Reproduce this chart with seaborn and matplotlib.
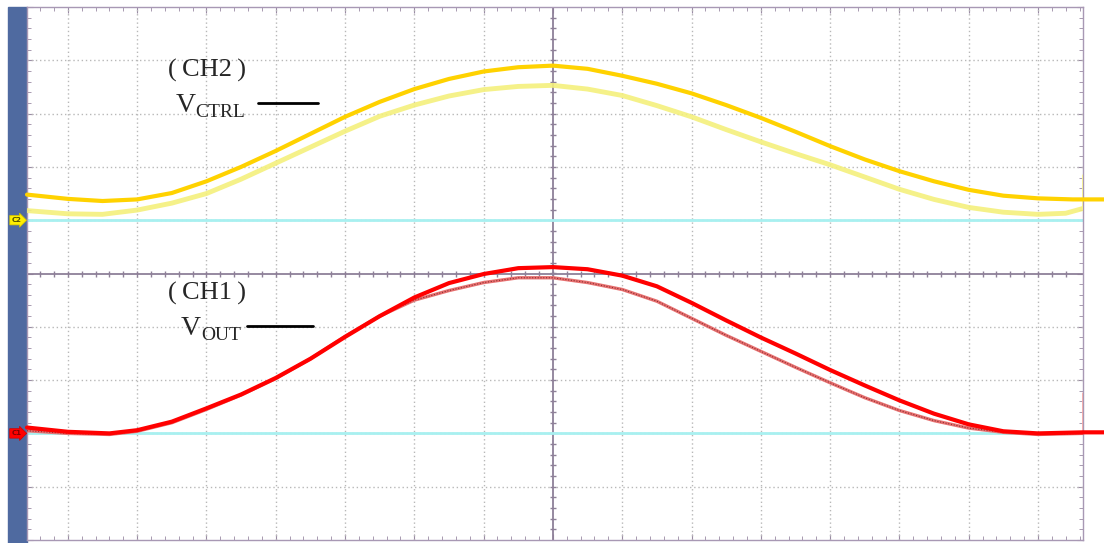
import numpy as np
import pandas as pd
import matplotlib
matplotlib.use("Agg")
import matplotlib.pyplot as plt
import seaborn as sns
from matplotlib.patches import Rectangle
from matplotlib.ticker import MultipleLocator
from matplotlib.transforms import blended_transform_factory

ch2_ref_x = [-7.59, -7.0, -6.5, -6.0, -5.5, -5.0, -4.5, -4.0, -3.5, -3.0, -2.5, -2.0, -1.5,
             -1.0, -0.5, 0.0, 0.5, 1.0, 1.5, 2.0, 2.5, 3.0, 3.5, 4.0, 4.5, 5.0, 5.5, 6.0,
             6.5, 7.0, 7.5, 7.95]
ch2_ref_y = [1.48, 1.40, 1.36, 1.39, 1.51, 1.73, 2.00, 2.30, 2.62, 2.94, 3.22, 3.46, 3.65,
             3.79, 3.87, 3.90, 3.84, 3.71, 3.56, 3.38, 3.16, 2.92, 2.66, 2.39, 2.14, 1.92, 1.73, 1.57,
             1.46, 1.41, 1.39, 1.39]

ch2_x = [-7.59, -7.0, -6.5, -6.0, -5.5, -5.0, -4.5, -4.0, -3.5, -3.0, -2.5, -2.0, -1.5,
         -1.0, -0.5, 0.0, 0.5, 1.0, 1.5, 2.0, 2.5, 3.0, 3.5, 4.0, 4.5, 5.0, 5.5, 6.0,
         6.5, 7.0, 7.4, 7.65]
ch2_y = [1.18, 1.12, 1.11, 1.19, 1.32, 1.50, 1.77, 2.07, 2.37, 2.67, 2.95, 3.16, 3.33,
         3.45, 3.51, 3.53, 3.46, 3.34, 3.15, 2.94, 2.70, 2.47, 2.25, 2.04, 1.81, 1.58, 1.39, 1.24,
         1.15, 1.11, 1.13, 1.22]
ch2_spike = [1.22, 1.84]

ch1_ref_x = [-7.59, -7.0, -6.4, -6.0, -5.5, -5.0, -4.5, -4.0, -3.5, -3.0, -2.5, -2.0, -1.5,
             -1.0, -0.5, 0.0, 0.5, 1.0, 1.5, 2.0, 2.5, 3.0, 3.5, 4.0, 4.5, 5.0, 5.5, 6.0,
             6.5, 7.0, 7.65, 7.95]
ch1_ref_y = [-2.89, -2.97, -3.00, -2.94, -2.78, -2.53, -2.27, -1.96, -1.60, -1.19, -0.80, -0.45, -0.18,
             -0.01, 0.10, 0.12, 0.08, -0.04, -0.24, -0.55, -0.88, -1.20, -1.50, -1.81, -2.10, -2.38, -2.63, -2.83,
             -2.96, -3.00, -2.98, -2.98]

ch1_x = [-7.59, -7.0, -6.4, -6.0, -5.5, -5.0, -4.5, -4.0, -3.5, -3.0, -2.5, -2.0, -1.5,
         -1.0, -0.5, 0.0, 0.5, 1.0, 1.5, 2.0, 2.5, 3.0, 3.5, 4.0, 4.5, 5.0, 5.5, 6.0,
         6.5, 7.0, 7.65]
ch1_y = [-2.95, -3.00, -3.02, -2.96, -2.80, -2.55, -2.28, -1.97, -1.60, -1.18, -0.80, -0.50, -0.32,
         -0.17, -0.08, -0.08, -0.17, -0.30, -0.52, -0.84, -1.16, -1.46, -1.76, -2.05, -2.33, -2.57, -2.76, -2.90,
         -2.98, -3.02, -3.00]
ch1_spike = [-3.00, -2.25]

ground_ch2 = 1.0
ground_ch1 = -3.0

sns.set_style("white")
W, H = 1104, 543
fig = plt.figure(figsize=(W / 100, H / 100), dpi=100)
fig.patch.set_facecolor("white")
ax = fig.add_axes([27 / W, 3 / H, (1083 - 27) / W, (540 - 7) / H])
ax.set_xlim(-7.59, 7.65)
ax.set_ylim(-5, 5)

# barra laterale blu
fig.patches.append(Rectangle((8 / W, 0), 19 / W, 536 / H, transform=fig.transFigure,
                             color="#4f6aa0", zorder=-5))

# griglia tratteggiata
for gx in range(-7, 8):
    if gx != 0:
        ax.axvline(gx, color="#b8b8b8", lw=1, ls=(0, (1, 2)), zorder=1)
for gy in range(-4, 5):
    if gy != 0:
        ax.axhline(gy, color="#b8b8b8", lw=1, ls=(0, (1, 2)), zorder=1)
ax.axvline(0, color="#8e8098", lw=1.3, zorder=1)
ax.axhline(0, color="#8e8098", lw=1.3, zorder=1)
tx = np.arange(-7.4, 7.6, 0.2)
ty = np.arange(-4.8, 5.0, 0.2)
ax.plot(tx, np.zeros_like(tx), ls="none", marker="|", ms=5, color="#8e8098", zorder=1)
ax.plot(np.zeros_like(ty), ty, ls="none", marker="_", ms=5, color="#8e8098", zorder=1)

ax.xaxis.set_major_locator(MultipleLocator(1))
ax.yaxis.set_major_locator(MultipleLocator(1))
ax.xaxis.set_minor_locator(MultipleLocator(0.2))
ax.yaxis.set_minor_locator(MultipleLocator(0.2))
ax.tick_params(which="both", direction="in", top=True, right=True, bottom=True, left=True,
               labelbottom=False, labelleft=False, color="#9a8aa4")
ax.tick_params(which="major", length=4)
ax.tick_params(which="minor", length=3)
for s in ax.spines.values():
    s.set_color("#a898b4")
    s.set_linewidth(1)

# linee di massa
ax.axhline(ground_ch2, color="#a8f0f0", lw=2, zorder=2)
ax.axhline(ground_ch1, color="#a8f0f0", lw=2, zorder=2)

# CH2
sns.lineplot(x=ch2_x, y=ch2_y, ax=ax, color="#f4f07c", lw=3.5, alpha=0.9, sort=False, zorder=3)
ax.plot([ch2_x[-1], ch2_x[-1]], ch2_spike, color="#f6f090", lw=2, zorder=3)
sns.lineplot(x=ch2_ref_x, y=ch2_ref_y, ax=ax, color="#ffd200", lw=3, sort=False, zorder=4,
             clip_on=False)

# CH1
ax.plot([ch1_x[-1], ch1_x[-1]], ch1_spike, color="#f4a8a8", lw=2, zorder=3)
sns.lineplot(x=ch1_x, y=ch1_y, ax=ax, color="#e87070", lw=2.4, sort=False, zorder=3)
sns.lineplot(x=ch1_x, y=ch1_y, ax=ax, color="#8a3030", lw=0.8, ls=(0, (1, 1.5)), sort=False, zorder=3)
sns.lineplot(x=ch1_ref_x, y=ch1_ref_y, ax=ax, color="#ff0000", lw=3, sort=False, zorder=4,
             clip_on=False)

# etichette dei canali a sinistra
tr = blended_transform_factory(ax.transAxes, ax.transData)
ax.text(-0.01, ground_ch2, "C2", transform=tr, ha="center", va="center", fontsize=5,
        color="#505000", clip_on=False, zorder=10, fontweight="bold",
        bbox=dict(boxstyle="rarrow,pad=0.25", fc="#ffee00", ec="#d0c000", lw=0.5))
ax.text(-0.01, ground_ch1, "C1", transform=tr, ha="center", va="center", fontsize=5,
        color="#800000", clip_on=False, zorder=10, fontweight="bold",
        bbox=dict(boxstyle="rarrow,pad=0.25", fc="#ff0000", ec="#d00000", lw=0.5))

# testi
fam = ["Liberation Serif", "DejaVu Serif"]
def fx(px):
    return px / W
def fy(py):
    return 1 - py / H

fig.text(fx(207), fy(70), "(\u2009CH2\u2009)", family=fam, fontsize=19, ha="center", va="center")
fig.text(fx(176), fy(112), "V", family=fam, fontsize=20, ha="left", va="baseline")
fig.text(fx(195), fy(117), "CTRL", family=fam, fontsize=14, ha="left", va="baseline")
fig.add_artist(plt.Line2D([fx(258), fx(318)], [fy(103), fy(103)], color="black", lw=2))

fig.text(fx(207), fy(293), "(\u2009CH1\u2009)", family=fam, fontsize=19, ha="center", va="center")
fig.text(fx(181), fy(335), "V", family=fam, fontsize=20, ha="left", va="baseline")
fig.text(fx(201), fy(340), "OUT", family=fam, fontsize=14, ha="left", va="baseline")
fig.add_artist(plt.Line2D([fx(247), fx(313)], [fy(326), fy(326)], color="black", lw=2))

fig.savefig("out.png", dpi=100, facecolor="white")
